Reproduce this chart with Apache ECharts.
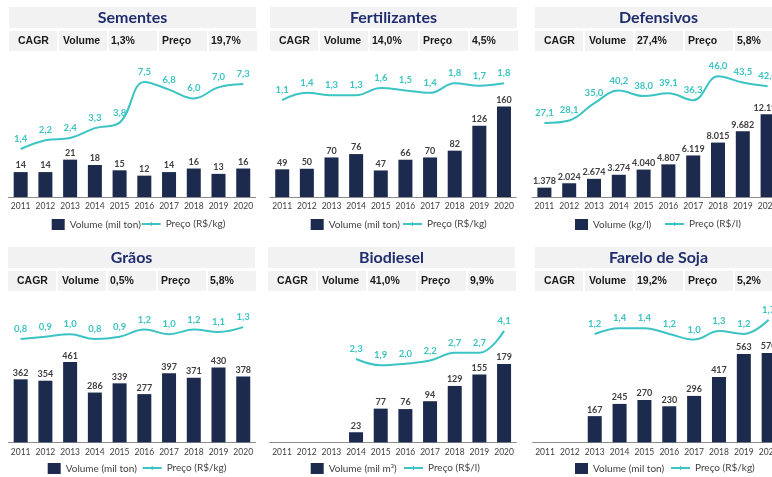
<!DOCTYPE html>
<html>
<head>
<meta charset="utf-8">
<script src="https://cdn.jsdelivr.net/npm/echarts@6/dist/echarts.min.js"></script>
<style>
  html, body { margin: 0; padding: 0; background: #fff; overflow: hidden; }
  #chart { width: 800px; height: 477px; }
</style>
</head>
<body>
<div id="chart"></div>
<script>
const years = ['2011', '2012', '2013', '2014', '2015', '2016', '2017', '2018', '2019', '2020'];

const sementesVolume = [14, 14, 21, 18, 15, 12, 14, 16, 13, 16];
const sementesPreco = [1.4, 2.2, 2.4, 3.3, 3.8, 7.5, 6.8, 6.0, 7.0, 7.3];
const fertilizantesVolume = [49, 50, 70, 76, 47, 66, 70, 82, 126, 160];
const fertilizantesPreco = [1.1, 1.4, 1.3, 1.3, 1.6, 1.5, 1.4, 1.8, 1.7, 1.8];
const defensivosVolume = [1378, 2024, 2674, 3274, 4040, 4807, 6119, 8015, 9682, 12190];
const defensivosPreco = [27.1, 28.1, 35.0, 40.2, 38.0, 39.1, 36.3, 46.0, 43.5, 42.0];
const graosVolume = [362, 354, 461, 286, 339, 277, 397, 371, 430, 378];
const graosPreco = [0.8, 0.9, 1.0, 0.8, 0.9, 1.2, 1.0, 1.2, 1.1, 1.3];
const biodieselVolume = [null, null, null, 23, 77, 76, 94, 129, 155, 179];
const biodieselPreco = [null, null, null, 2.3, 1.9, 2.0, 2.2, 2.7, 2.7, 4.1];
const fareloVolume = [null, null, 167, 245, 270, 230, 296, 417, 563, 570];
const fareloPreco = [null, null, 1.2, 1.4, 1.4, 1.2, 1.0, 1.3, 1.2, 1.7];

const titles = ['Sementes', 'Fertilizantes', 'Defensivos', 'Grãos', 'Biodiesel', 'Farelo de Soja'];
const cagrVolume = ['1,3%', '14,0%', '27,4%', '0,5%', '41,0%', '19,2%'];
const cagrPreco = ['19,7%', '4,5%', '5,8%', '5,8%', '9,9%', '5,2%'];
const volumeNames = ['Volume (mil ton)', 'Volume (mil ton)', 'Volume (kg/l)', 'Volume (mil ton)', 'Volume (mil m³)', 'Volume (mil ton)'];
const precoNames = ['Preço (R$/kg)', 'Preço (R$/kg)', 'Preço (R$/l)', 'Preço (R$/kg)', 'Preço (R$/l)', 'Preço (R$/kg)'];
const volumes = [sementesVolume, fertilizantesVolume, defensivosVolume, graosVolume, biodieselVolume, fareloVolume];
const precos = [sementesPreco, fertilizantesPreco, defensivosPreco, graosPreco, biodieselPreco, fareloPreco];

// layout of each small chart (px)
const layout = [
  { px: 9,   ty: 7,   gl: 8.3,   gw: 247.3, gt: 60,  gh: 137,   barMax: 77,    lMin: -2.96, lMax: 9.49, lgY: 219, lgBar: 51.7,  lgLine: 141.7 },
  { px: 270, ty: 7,   gl: 269.9, gw: 246.4, gt: 60,  gh: 137,   barMax: 242.5, lMin: -2.94, lMax: 2.77, lgY: 219, lgBar: 310.7, lgLine: 403 },
  { px: 535, ty: 7,   gl: 532,   gw: 248,   gt: 60,  gh: 137,   barMax: 20177, lMin: -2.9,  lMax: 52.6, lgY: 219, lgBar: 575,   lgLine: 665 },
  { px: 8,   ty: 247, gl: 8.3,   gw: 247.3, gt: 300, gh: 142.3, barMax: 818,   lMin: -3.5,  lMax: 2.43, lgY: 463, lgBar: 47.7,  lgLine: 142.7 },
  { px: 268, ty: 247, gl: 269.7, gw: 246.7, gt: 300, gh: 142.3, barMax: 325.6, lMin: -3.04, lMax: 6.08, lgY: 463, lgBar: 310.7, lgLine: 404 },
  { px: 535, ty: 247, gl: 532.6, gw: 248.5, gt: 300, gh: 142.3, barMax: 908,   lMin: -2.63, lMax: 2.40, lgY: 463, lgBar: 575,   lgLine: 671 }
];

const navy = '#1c2a4d';
const teal = '#3cc3c3';
const boxGray = '#f2f2f2';
const textGray = '#404040';

const fmtThousand = v => String(v).replace(/\B(?=(\d{3})+(?!\d))/g, '.');
const fmtDecimal = v => v.toFixed(1).replace('.', ',');

const chart = echarts.init(document.getElementById('chart'));

const option = {
  animation: false,
  grid: [], xAxis: [], yAxis: [], series: [], legend: [], graphic: []
};

titles.forEach((title, i) => {
  const L = layout[i];

  option.grid.push({ left: L.gl, top: L.gt, width: L.gw, height: L.gh });
  option.xAxis.push({
    type: 'category', gridIndex: i, data: years,
    axisTick: { show: false },
    axisLine: { lineStyle: { color: '#8c8c8c', width: 1 } },
    axisLabel: { color: textGray, fontSize: 8.5, fontFamily: 'Lato', margin: 5, interval: 0 }
  });
  option.yAxis.push({ type: 'value', gridIndex: i, min: 0, max: L.barMax, show: false });
  option.yAxis.push({ type: 'value', gridIndex: i, min: L.lMin, max: L.lMax, show: false });

  option.series.push({
    name: volumeNames[i], type: 'bar', xAxisIndex: i, yAxisIndex: 2 * i,
    data: volumes[i], barWidth: 14,
    itemStyle: { color: navy },
    label: {
      show: true, position: 'top', distance: 2, color: textGray,
      fontFamily: 'Lato', fontWeight: 'bold', fontSize: 9,
      formatter: p => fmtThousand(p.value)
    }
  });
  option.series.push({
    name: precoNames[i], type: 'line', xAxisIndex: i, yAxisIndex: 2 * i + 1,
    data: precos[i], smooth: 0.4,
    symbol: 'circle', symbolSize: 0.1, showSymbol: true,
    lineStyle: { color: teal, width: 2 },
    itemStyle: { color: teal },
    label: {
      show: true, position: 'top', distance: 5, color: teal,
      fontFamily: 'Lato', fontWeight: 'bold', fontSize: 9.5,
      formatter: p => fmtDecimal(p.value)
    }
  });

  option.legend.push({
    left: L.lgBar, top: L.lgY, itemWidth: 13, itemHeight: 11, padding: 0,
    data: [{ name: volumeNames[i], icon: 'rect' }],
    textStyle: { color: textGray, fontSize: 10, fontFamily: 'Lato' }
  });
  option.legend.push({
    left: L.lgLine, top: L.lgY, itemWidth: 19, itemHeight: 11, padding: 0,
    data: [{ name: precoNames[i], icon: 'path://M0,4H8.5V3H9.5V4H18V6H9.5V7H8.5V6H0Z' }],
    textStyle: { color: textGray, fontSize: 10, fontFamily: 'Lato' }
  });

  // title box
  option.graphic.push({
    type: 'rect', shape: { x: L.px, y: L.ty, width: 247, height: 21 },
    style: { fill: boxGray }, silent: true
  });
  option.graphic.push({
    type: 'text', x: L.px + 123.5, y: L.ty + 11,
    style: {
      text: title, fill: '#1f2d6e', fontFamily: 'Lato', fontWeight: 'bold', fontSize: 16,
      align: 'center', verticalAlign: 'middle'
    }
  });

  // CAGR row
  const cells = ['CAGR', 'Volume', cagrVolume[i], 'Preço', cagrPreco[i]];
  const textOffsets = [9, 54, 102, 153, 202];
  cells.forEach((c, k) => {
    option.graphic.push({
      type: 'rect', shape: { x: L.px + k * 50, y: L.ty + 24, width: 48, height: 20 },
      style: { fill: boxGray }, silent: true
    });
    option.graphic.push({
      type: 'text', x: L.px + textOffsets[k], y: L.ty + 34.5,
      style: {
        text: c, fill: '#1a1a1a', fontFamily: 'Liberation Sans', fontWeight: 'bold', fontSize: 10.5,
        align: 'left', verticalAlign: 'middle'
      }
    });
  });
});

chart.setOption(option);
</script>
</body>
</html>
